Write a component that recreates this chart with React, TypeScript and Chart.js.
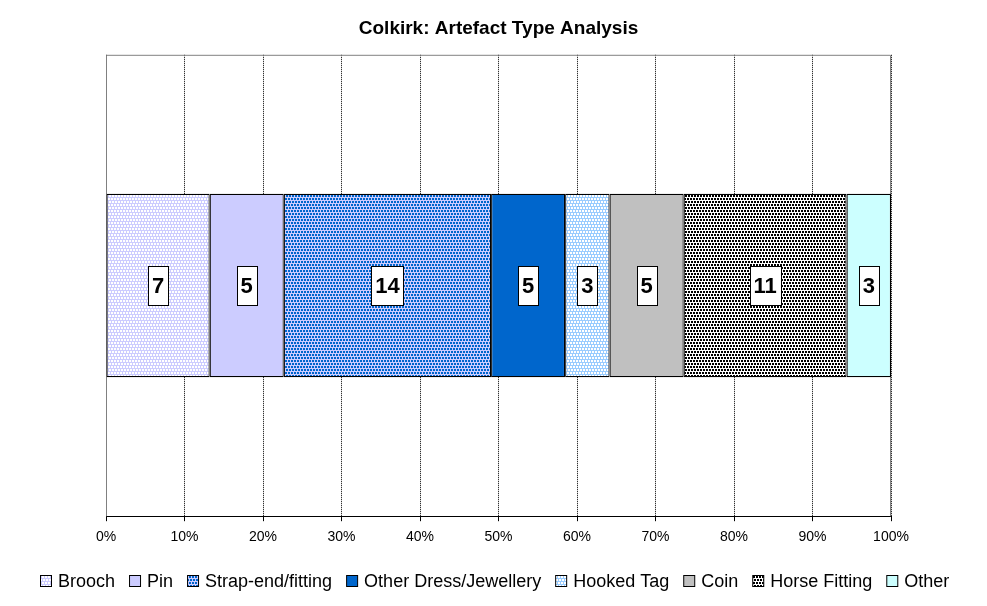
import React, { useEffect, useRef } from "react";
import { Chart, registerables } from "chart.js";

Chart.register(...registerables);

const categories = ["Colkirk"];
const seriesNames = ["Brooch", "Pin", "Strap-end/fitting", "Other Dress/Jewellery", "Hooked Tag", "Coin", "Horse Fitting", "Other"];
const seriesCounts = [7, 5, 14, 5, 3, 5, 11, 3];
const xTickValues = [0, 10, 20, 30, 40, 50, 60, 70, 80, 90, 100];

const FONT = "'Liberation Sans', Arial, sans-serif";

// staggered 2x2 block pattern on a 3px grid
function blockPattern(base: string, fg: string): CanvasPattern | string {
  const c = document.createElement("canvas");
  c.width = 3;
  c.height = 6;
  const ctx = c.getContext("2d")!;
  ctx.fillStyle = base;
  ctx.fillRect(0, 0, 3, 6);
  ctx.fillStyle = fg;
  ctx.fillRect(0, 0, 2, 2);
  ctx.fillRect(1, 3, 2, 2);
  const p = ctx.createPattern(c, "repeat");
  return p || base;
}

export default function App() {
  const ref = useRef<HTMLCanvasElement>(null);
  useEffect(() => {
    if (!ref.current) return;
    const total = seriesCounts.reduce((a, b) => a + b, 0);
    const fills = [
      blockPattern("#ccccff", "#ffffff"),
      "#ccccff",
      blockPattern("#ccccff", "#0066cc"),
      "#0066cc",
      blockPattern("#99ccff", "#ffffff"),
      "#c0c0c0",
      blockPattern("#ffffff", "#000000"),
      "#ccffff",
    ];
    const frame = {
      id: "frame",
      beforeDatasetsDraw(chart: any) {
        const a = chart.chartArea;
        const ctx = chart.ctx;
        ctx.save();
        ctx.strokeStyle = "#808080";
        ctx.lineWidth = 1;
        ctx.beginPath();
        ctx.moveTo(a.left + 0.5, a.bottom);
        ctx.lineTo(a.left + 0.5, a.top + 0.5);
        ctx.lineTo(a.right - 0.5, a.top + 0.5);
        ctx.lineTo(a.right - 0.5, a.bottom);
        ctx.stroke();
        ctx.restore();
      },
      afterDatasetsDraw(chart: any) {
        const ctx = chart.ctx;
        ctx.save();
        ctx.font = `bold 22px ${FONT}`;
        ctx.textAlign = "center";
        ctx.textBaseline = "middle";
        chart.data.datasets.forEach((ds: any, i: number) => {
          const el = chart.getDatasetMeta(i).data[0] as any;
          if (!el) return;
          const cx = (el.x + el.base) / 2;
          const cy = el.y;
          const txt = String(seriesCounts[i]);
          const w = Math.round(ctx.measureText(txt).width + 8);
          const h = 39;
          const x0 = Math.round(cx - w / 2) + 0.5;
          const y0 = Math.round(cy - h / 2) + 0.5;
          ctx.fillStyle = "#ffffff";
          ctx.fillRect(x0, y0, w, h);
          ctx.strokeStyle = "#000000";
          ctx.lineWidth = 1;
          ctx.strokeRect(x0, y0, w, h);
          ctx.fillStyle = "#000000";
          ctx.fillText(txt, cx, cy + 1);
        });
        ctx.restore();
      },
      afterDraw(chart: any) {
        const ctx = chart.ctx;
        ctx.save();
        ctx.font = `18px ${FONT}`;
        ctx.textBaseline = "middle";
        ctx.textAlign = "left";
        const box = 11, gapText = 7, gapItem = 14;
        const widths = seriesNames.map((n) => ctx.measureText(n).width);
        const totalW = widths.reduce((a, w) => a + box + gapText + w, 0) + gapItem * (seriesNames.length - 1);
        let x = Math.round(494.5 - totalW / 2);
        const cy = 581;
        const datasets = chart.data.datasets;
        seriesNames.forEach((n, i) => {
          ctx.fillStyle = datasets[i].backgroundColor;
          ctx.fillRect(x + 0.5, cy - 5.5, box, box);
          ctx.strokeStyle = "#000000";
          ctx.lineWidth = 1;
          ctx.strokeRect(x + 0.5, cy - 5.5, box, box);
          ctx.fillStyle = "#000000";
          ctx.fillText(n, x + box + gapText, cy + 1);
          x += box + gapText + widths[i] + gapItem;
        });
        ctx.restore();
      },
    };
    const chart = new Chart(ref.current, {
      type: "bar",
      data: {
        labels: categories,
        datasets: seriesNames.map((name, i) => ({
          label: name,
          data: [(seriesCounts[i] / total) * 100],
          backgroundColor: fills[i] as any,
          borderColor: "#000000",
          borderWidth: 1.2,
          borderSkipped: false,
          categoryPercentage: 0.398,
          barPercentage: 1,
        })),
      },
      options: {
        indexAxis: "y",
        animation: false,
        responsive: false,
        maintainAspectRatio: false,
        layout: { padding: { left: 106, right: 96, top: 0, bottom: 52 } },
        scales: {
          x: {
            stacked: true,
            min: 0,
            max: 100,
            afterBuildTicks: (axis: any) => {
              axis.ticks = xTickValues.map((v) => ({ value: v }));
            },
            ticks: {
              callback: (v: any) => v + "%",
              color: "#000000",
              font: { family: FONT, size: 14 },
              padding: 8,
              maxRotation: 0,
              autoSkip: false,
            },
            grid: { color: "#000000", lineWidth: 1, tickLength: 5, drawOnChartArea: true },
            border: { display: true, color: "#000000", width: 1, dash: [1, 1] },
          },
          y: { stacked: true, display: false },
        },
        plugins: {
          title: {
            display: true,
            text: "Colkirk: Artefact Type Analysis",
            color: "#000000",
            font: { family: FONT, size: 19, weight: "bold" },
            padding: { top: 17, bottom: 15 },
          },
          legend: { display: false },
          tooltip: { enabled: false },
        },
      },
      plugins: [frame],
    });
    return () => chart.destroy();
  }, []);
  return (
    <div style={{ position: "fixed", left: 0, top: 0, width: 987, height: 606, background: "#fff" }}>
      <canvas ref={ref} width={987} height={606} style={{ width: 987, height: 606 }} />
    </div>
  );
}
